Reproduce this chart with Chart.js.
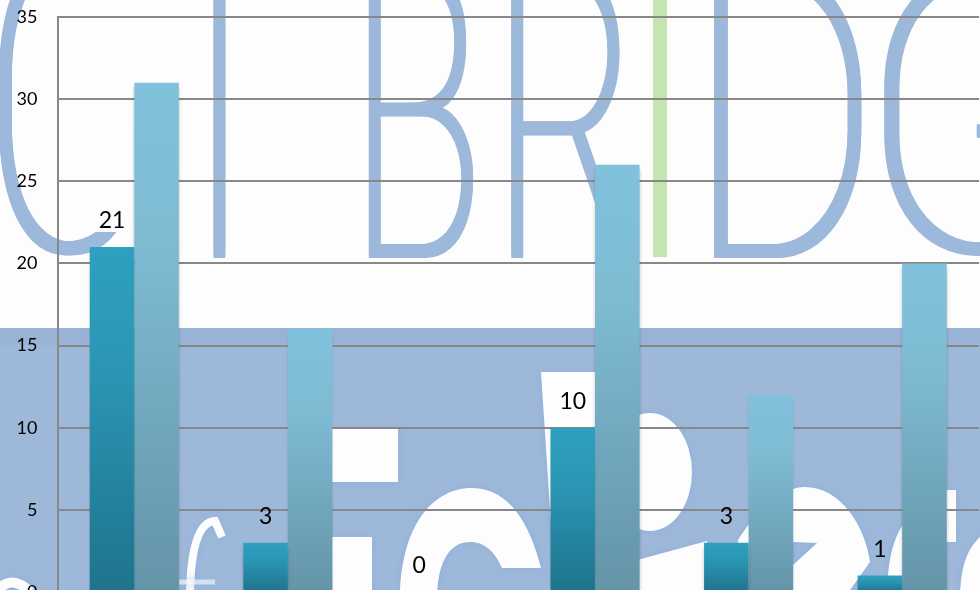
<!DOCTYPE html>
<html>
<head>
<meta charset="utf-8">
<title>Chart</title>
<script src="https://cdn.jsdelivr.net/npm/chart.js@4"></script>
<style>
  html, body { margin: 0; padding: 0; width: 980px; height: 590px; overflow: hidden; background: #fdfdfe; }
  canvas { display: block; }
</style>
</head>
<body>
<canvas id="chart" width="980" height="620"></canvas>
<script>
// --- Data ---
const categories = ['1', '2', '3', '4', '5', '6'];
const darkValues = [21, 3, 0, 10, 3, 1];
const lightValues = [31, 16, 0, 26, 12, 20];
const yTicks = [0, 5, 10, 15, 20, 25, 30, 35];

const FONT = 'Lato, Carlito, Calibri, sans-serif';
const BLUE = '#9db8d8';

// --- Backdrop: the logo picture that sits behind the plot ---
function drawLetter(c, ch, left, right, color, top = -35) {
  const bottom = 258;
  c.save();
  c.font = '100 400px Roboto';
  const m = c.measureText(ch);
  const w = m.actualBoundingBoxLeft + m.actualBoundingBoxRight;
  const h = m.actualBoundingBoxAscent + m.actualBoundingBoxDescent;
  const sx = (right - left - 6) / w;
  const sy = (bottom - top - 3) / h;
  c.fillStyle = color;
  // offset copies thicken the thin glyph by a set amount each way
  [0, 3, 6].forEach(dx => {
    [0, 3].forEach(dy => {
      c.save();
      c.translate(left + dx + m.actualBoundingBoxLeft * sx, top + dy + m.actualBoundingBoxAscent * sy);
      c.scale(sx, sy);
      c.fillText(ch, 0, 0);
      c.restore();
    });
  });
  c.restore();
}

function whiteShapes(c) {
  // blocks left of the third category
  c.fillRect(300, 429, 98, 53);
  c.fillRect(300, 537, 72, 60);
  // large C shape
  c.beginPath();
  c.moveTo(400, 600);
  c.bezierCurveTo(400, 530, 430, 488, 472, 488);
  c.bezierCurveTo(510, 488, 530, 525, 541, 568);
  c.lineTo(502, 568);
  c.bezierCurveTo(495, 552, 485, 542, 470, 542);
  c.bezierCurveTo(448, 542, 437, 565, 437, 600);
  c.closePath();
  c.fill();
  // wedge behind the 10 label
  c.beginPath();
  c.moveTo(541, 372);
  c.lineTo(600, 372);
  c.lineTo(600, 600);
  c.lineTo(556, 600);
  c.closePath();
  c.fill();
  // oval and the shape under it
  c.beginPath();
  c.ellipse(650, 472, 42, 59, 0, 0, Math.PI * 2);
  c.fill();
  c.beginPath();
  c.moveTo(630, 562);
  c.lineTo(707, 541);
  c.lineTo(707, 600);
  c.lineTo(630, 600);
  c.closePath();
  c.fill();
  // z-like shape
  c.beginPath();
  c.moveTo(738, 540);
  c.bezierCurveTo(760, 505, 785, 487, 805, 487);
  c.bezierCurveTo(840, 487, 865, 525, 870, 562);
  c.lineTo(850, 590);
  c.lineTo(850, 600);
  c.lineTo(793, 600);
  c.lineTo(793, 565);
  c.lineTo(817, 543);
  c.lineTo(793, 542);
  c.lineTo(790, 600);
  c.lineTo(738, 600);
  c.closePath();
  c.fill();
  // pieces around the last category
  c.beginPath();
  c.moveTo(887, 600);
  c.bezierCurveTo(887, 560, 893, 530, 915, 510);
  c.lineTo(915, 600);
  c.closePath();
  c.fill();
  c.fillRect(935, 490, 21, 52);
  c.beginPath();
  c.moveTo(960, 600);
  c.bezierCurveTo(960, 565, 968, 545, 985, 533);
  c.lineTo(985, 600);
  c.closePath();
  c.fill();
  // f on the left
  c.save();
  c.strokeStyle = '#fdfdfe';
  c.lineWidth = 8;
  c.beginPath();
  c.moveTo(190, 600);
  c.bezierCurveTo(190, 560, 195, 522, 215, 521);
  c.lineTo(222, 537);
  c.stroke();
  c.globalAlpha = 0.6;
  c.lineWidth = 5;
  c.beginPath();
  c.moveTo(179, 582);
  c.lineTo(215, 582);
  c.stroke();
  c.globalAlpha = 1;
  // arc at the bottom left corner
  c.lineWidth = 10;
  c.beginPath();
  c.moveTo(-2, 590);
  c.quadraticCurveTo(12, 574, 30, 592);
  c.stroke();
  c.restore();
}

const backdrop = {
  id: 'backdrop',
  beforeDraw(chart) {
    const c = chart.ctx;
    c.save();
    c.fillStyle = '#fdfdfe';
    c.fillRect(0, 0, 980, 620);
    c.filter = 'blur(0.7px)';
    // the C only shows its left side and its lower end
    c.save();
    c.beginPath();
    c.rect(-10, -100, 70, 400);
    c.rect(50, 232, 84, 60);
    c.clip();
    drawLetter(c, 'C', -3, 140, '#9cb8da', -60);
    c.restore();
    drawLetter(c, 'T', 154, 284, '#9cb8da');
    drawLetter(c, 'B', 368, 476, '#9cb8da');
    drawLetter(c, 'R', 511, 628, '#9cb8da');
    c.fillStyle = '#c4e5b0';
    c.fillRect(653, -5, 14, 262);
    drawLetter(c, 'D', 713, 863, '#9cb8da');
    drawLetter(c, 'G', 883, 1069, '#9cb8da');
    // blue band
    c.fillStyle = BLUE;
    c.fillRect(0, 328, 980, 300);
    c.fillStyle = '#99b3d7';
    c.fillRect(0, 328, 980, 17);
    c.shadowColor = '#8fafdf';
    c.shadowBlur = 8;
    c.fillStyle = '#fdfdfe';
    whiteShapes(c);
    c.restore();
  }
};

// --- Bars ---
const barShadow = {
  id: 'barShadow',
  beforeDatasetDraw(chart) {
    const c = chart.ctx;
    c.save();
    c.shadowColor = 'rgba(60, 60, 60, 0.3)';
    c.shadowBlur = 3;
    c.shadowOffsetY = 4;
  },
  afterDatasetDraw(chart) {
    chart.ctx.restore();
  }
};

const darkLabels = {
  id: 'darkLabels',
  afterDatasetsDraw(chart) {
    const c = chart.ctx;
    c.save();
    c.font = '23px ' + FONT;
    c.fillStyle = '#000';
    c.textAlign = 'center';
    c.textBaseline = 'middle';
    chart.getDatasetMeta(0).data.forEach((bar, i) => {
      c.fillText(String(darkValues[i]), bar.x, bar.y - 26);
    });
    c.restore();
  }
};

function gradientFor(stops) {
  return ctx => {
    const y = ctx.chart.scales.y;
    if (!y || ctx.raw === undefined) return stops[0][1];
    const top = y.getPixelForValue(ctx.raw);
    const base = y.getPixelForValue(0);
    if (!isFinite(top) || !isFinite(base)) return stops[0][1];
    const g = ctx.chart.ctx.createLinearGradient(0, top, 0, base);
    stops.forEach(s => g.addColorStop(s[0], s[1]));
    return g;
  };
}

new Chart(document.getElementById('chart'), {
  type: 'bar',
  data: {
    labels: categories,
    datasets: [
      {
        data: darkValues,
        backgroundColor: gradientFor([[0, '#2ea0c0'], [0.35, '#2b96b4'], [1, '#1f738c']]),
        barPercentage: 1,
        categoryPercentage: 0.58
      },
      {
        data: lightValues,
        backgroundColor: gradientFor([[0, '#80c1db'], [0.3, '#7fbcd4'], [1, '#6494a8']]),
        barPercentage: 1,
        categoryPercentage: 0.58
      }
    ]
  },
  options: {
    responsive: false,
    animation: false,
    layout: { padding: { top: 17, bottom: 28, left: 0.5, right: 1 } },
    plugins: { legend: { display: false }, tooltip: { enabled: false } },
    scales: {
      x: { display: false },
      y: {
        min: 0,
        max: 35,
        afterFit: scale => {
          scale.width = 57;
          scale.paddingTop = 0;
          scale.paddingBottom = 0;
        },
        afterBuildTicks: scale => { scale.ticks = yTicks.map(v => ({ value: v })); },
        grid: { color: '#888888', lineWidth: 2, tickLength: 0, drawTicks: false },
        border: { color: '#888888', width: 2 },
        ticks: { color: '#000', font: { family: FONT, size: 18 }, padding: 20 }
      }
    }
  },
  plugins: [backdrop, barShadow, darkLabels]
});
</script>
</body>
</html>
